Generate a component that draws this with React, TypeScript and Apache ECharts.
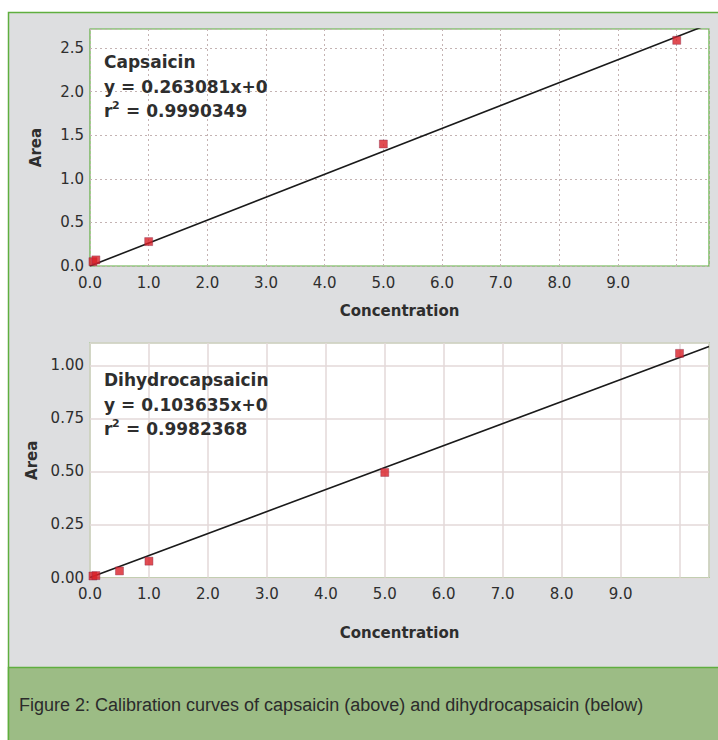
import React, { useEffect, useRef } from "react";
import * as echarts from "echarts";

// Calibration data: concentration vs. peak area
const capConc = [0.05, 0.1, 1.0, 5.0, 10.0];
const capArea = [0.05, 0.07, 0.28, 1.4, 2.59];
const capSlope = 0.263081;
const capR2 = "0.9990349";

const dhcConc = [0.05, 0.1, 0.5, 1.0, 5.0, 10.0];
const dhcArea = [0.007, 0.009, 0.031, 0.077, 0.495, 1.056];
const dhcSlope = 0.103635;
const dhcR2 = "0.9982368";

const xTickLabels = ["0.0", "1.0", "2.0", "3.0", "4.0", "5.0", "6.0", "7.0", "8.0", "9.0"];
const capYTicks = ["0.0", "0.5", "1.0", "1.5", "2.0", "2.5"];
const dhcYTicks = ["0.00", "0.25", "0.50", "0.75", "1.00"];

const caption = "Figure 2: Calibration curves of capsaicin (above) and dihydrocapsaicin (below)";

const GREEN = "#5fae3f";
const PANEL = "#dddee0";
const TXT = "#2e2e2e";
const FONT = "DejaVu Sans";

const CAP_XMAX = 10.55;
const CAP_YMAX = 2.72;
const DHC_XMAX = 10.5;
const DHC_YMAX = 1.105;

export default function App() {
  const ref = useRef<HTMLDivElement>(null);

  useEffect(() => {
    if (!ref.current) return;
    const chart = echarts.init(ref.current, null, { renderer: "svg" });

    const xLabel = (v: number) => {
      const i = Math.round(v);
      return Math.abs(v - i) < 1e-6 && i < xTickLabels.length ? xTickLabels[i] : "";
    };
    const yLabel = (ticks: string[], step: number) => (v: number) => {
      const i = Math.round(v / step);
      return Math.abs(v - i * step) < 1e-6 && i < ticks.length ? ticks[i] : "";
    };

    const nameStyle = { fontFamily: FONT, fontWeight: "bold", fontSize: 15, color: TXT };

    const xAxisBase = (gridIndex: number, max: number, nameGap: number, gridStyle: any) => ({
      type: "value",
      gridIndex,
      min: 0,
      max,
      interval: 1,
      name: "Concentration",
      nameLocation: "middle",
      nameGap,
      nameTextStyle: nameStyle,
      axisLine: { show: false },
      axisTick: { show: false },
      axisLabel: { formatter: xLabel, fontFamily: FONT, fontSize: 15, color: TXT, margin: 9, showMaxLabel: true },
      splitLine: { show: true, lineStyle: gridStyle },
    });

    const yAxisBase = (gridIndex: number, max: number, step: number, ticks: string[], gridStyle: any) => ({
      type: "value",
      gridIndex,
      min: 0,
      max,
      interval: step,
      name: "Area",
      nameLocation: "middle",
      nameGap: 47,
      nameTextStyle: nameStyle,
      axisLine: { show: false },
      axisTick: { show: false },
      axisLabel: { formatter: yLabel(ticks, step), fontFamily: FONT, fontSize: 15, color: TXT, margin: 6 },
      splitLine: { show: true, lineStyle: gridStyle },
    });

    const dotted = { color: "#c4b3b3", width: 1, type: [2, 3] };
    const solid = { color: "#e3d9d9", width: 1.5, type: "solid" };

    const marker = {
      type: "scatter",
      symbol: "rect",
      symbolSize: 8,
      itemStyle: { color: "#d91f27", borderColor: "#8a2a4a", borderWidth: 0.5 },
      z: 5,
    };
    const fitLine = {
      type: "line",
      symbol: "none",
      clip: true,
      lineStyle: { color: "#1a1a1a", width: 1.6 },
      z: 4,
    };

    const bold = { fontFamily: FONT, fontWeight: "bold", fontSize: 17, fill: TXT };
    const LINE = 24.5;

    // title, equation and r² drawn as three stacked lines
    const annotation = (centerY: number, title: string, slope: number, r2: string) => [
      { type: "text", x: 104, y: centerY, z: 10, style: { ...bold, text: title, verticalAlign: "middle" } },
      {
        type: "text",
        x: 104,
        y: centerY + LINE,
        z: 10,
        style: { ...bold, text: `y = ${slope.toFixed(6)}x+0`, verticalAlign: "middle" },
      },
      { type: "text", x: 104, y: centerY + 2 * LINE, z: 10, style: { ...bold, text: "r", verticalAlign: "middle" } },
      {
        type: "text",
        x: 112,
        y: centerY + 2 * LINE - 6,
        z: 10,
        style: { ...bold, fontSize: 11, text: "2", verticalAlign: "middle" },
      },
      {
        type: "text",
        x: 126,
        y: centerY + 2 * LINE,
        z: 10,
        style: { ...bold, text: `= ${r2}`, verticalAlign: "middle" },
      },
    ];

    chart.setOption({
      animation: false,
      graphic: [
        {
          type: "rect",
          shape: { x: 8.5, y: 12.5, width: 712, height: 730 },
          style: { fill: PANEL, stroke: GREEN, lineWidth: 1.5 },
          z: -10,
        },
        {
          type: "rect",
          shape: { x: 8.5, y: 667.5, width: 712, height: 80 },
          style: { fill: "#9cbc85", stroke: GREEN, lineWidth: 1.5 },
          z: -9,
        },
        {
          type: "text",
          x: 19,
          y: 705,
          style: { text: caption, fontFamily: "Liberation Sans", fontSize: 18, fill: "#2b2b2b", verticalAlign: "middle" },
        },
        ...annotation(62, "Capsaicin", capSlope, capR2),
        ...annotation(380, "Dihydrocapsaicin", dhcSlope, dhcR2),
      ],
      grid: [
        { left: 90, top: 29, width: 619, height: 237, show: true, backgroundColor: "#ffffff", borderColor: GREEN, borderWidth: 1.2 },
        { left: 90, top: 343, width: 619, height: 234.5, show: true, backgroundColor: "#ffffff", borderColor: GREEN, borderWidth: 1.2 },
      ],
      xAxis: [xAxisBase(0, CAP_XMAX, 37, dotted), xAxisBase(1, DHC_XMAX, 48, solid)],
      yAxis: [
        yAxisBase(0, CAP_YMAX, 0.5, capYTicks, dotted),
        yAxisBase(1, DHC_YMAX, 0.25, dhcYTicks, solid),
      ],
      series: [
        { ...fitLine, xAxisIndex: 0, yAxisIndex: 0, data: [[0, 0], [CAP_XMAX, capSlope * CAP_XMAX]] },
        { ...marker, xAxisIndex: 0, yAxisIndex: 0, data: capConc.map((c, i) => [c, capArea[i]]) },
        { ...fitLine, xAxisIndex: 1, yAxisIndex: 1, data: [[0, 0], [DHC_XMAX, dhcSlope * DHC_XMAX]] },
        { ...marker, xAxisIndex: 1, yAxisIndex: 1, data: dhcConc.map((c, i) => [c, dhcArea[i]]) },
      ],
    });

    return () => chart.dispose();
  }, []);

  return (
    <div
      ref={ref}
      style={{ position: "absolute", left: 0, top: 0, width: 718, height: 740, background: "#ffffff" }}
    />
  );
}
